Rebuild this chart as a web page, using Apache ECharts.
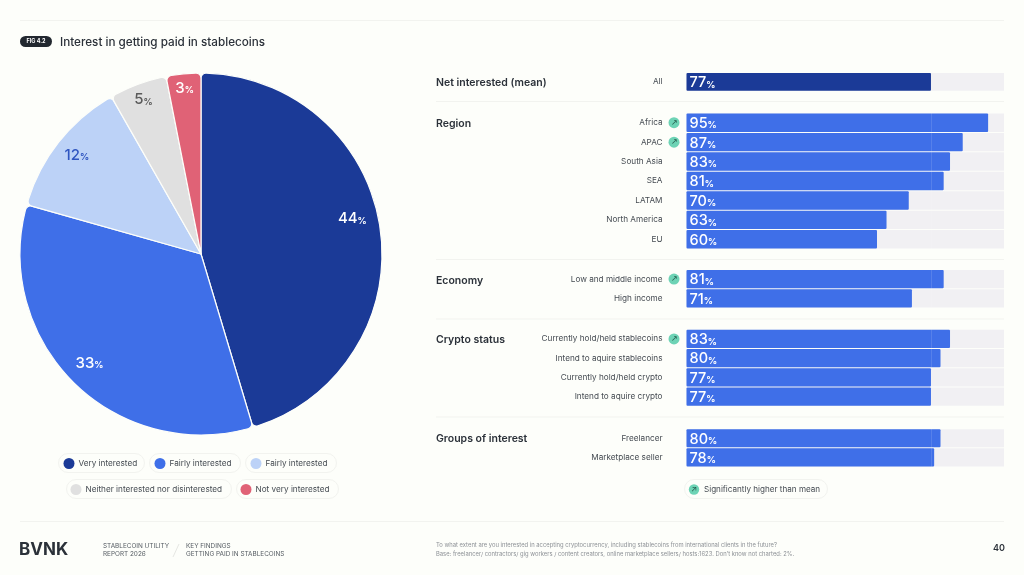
<!DOCTYPE html>
<html>
<head>
<meta charset="utf-8">
<style>
html, body { margin: 0; padding: 0; background: #fdfefa; }
#chart { width: 1024px; height: 575px; }
</style>
<script src="https://cdn.jsdelivr.net/npm/echarts@6/dist/echarts.min.js"></script>
</head>
<body>
<div id="chart"></div>
<script>
// pie: the 2% "don't know" is not charted, so values add up to 97
// the third name has a trailing space because the legend drops repeated names
var pieNames = ['Very interested', 'Fairly interested', 'Fairly interested ', 'Neither interested nor disinterested', 'Not very interested'];
var pieValues = [44, 33, 12, 5, 3];

var meanValue = 77;
var groupTitles = ['Net interested (mean)', 'Region', 'Economy', 'Crypto status', 'Groups of interest'];
var allNames = ['All'];
var allValues = [77];
var regionNames = ['Africa', 'APAC', 'South Asia', 'SEA', 'LATAM', 'North America', 'EU'];
var regionValues = [95, 87, 83, 81, 70, 63, 60];
var economyNames = ['Low and middle income', 'High income'];
var economyValues = [81, 71];
var cryptoNames = ['Currently hold/held stablecoins', 'Intend to aquire stablecoins', 'Currently hold/held crypto', 'Intend to aquire crypto'];
var cryptoValues = [83, 80, 77, 77];
var interestNames = ['Freelancer', 'Marketplace seller'];
var interestValues = [80, 78];
var higherThanMean = ['Africa', 'APAC', 'Low and middle income', 'Currently hold/held stablecoins'];

var FONT = 'Inter';
var BG = '#fdfefa';
var INK = '#2b3139';
var LINE = '#f2f3ef';
var DARK = '#1b3a97';
var BLUE = '#3f6fe8';
var MINT = '#6dd3b5';
var pieColors = [DARK, BLUE, '#bcd2f7', '#e0e0e0', '#e06276'];
var pieLabelColors = ['#fff', '#fff', '#2f55c0', '#5a5a5a', '#fff'];
var pieLabelOffsets = [[-6, -12], [0, -4], [1, -1], [-2, -5], [-1, -7]];

// pixel layout of the panels
var legendBoxes = [
    {x: 58, y: 453, w: 86, dot: 63.5}, {x: 149, y: 453, w: 91, dot: 154.5}, {x: 245, y: 453, w: 91, dot: 250.5},
    {x: 66, y: 479, w: 165, dot: 70.5}, {x: 236, y: 479, w: 102, dot: 240.5}
];
var barGroups = [
    {names: allNames, values: allValues, top: 72.5, height: 18.8, color: DARK, titleY: 82.7},
    {names: regionNames, values: regionValues, top: 113, height: 136, color: BLUE, titleY: 123.7},
    {names: economyNames, values: economyValues, top: 269.5, height: 38.4, color: BLUE, titleY: 280.7},
    {names: cryptoNames, values: cryptoValues, top: 329.3, height: 76.9, color: BLUE, titleY: 339.7},
    {names: interestNames, values: interestValues, top: 428.7, height: 38.2, color: BLUE, titleY: 438.7}
];

var chart = echarts.init(document.getElementById('chart'));

function hLine(x1, x2, y, color) {
    return {type: 'line', silent: true, shape: {x1: x1, y1: y, x2: x2, y2: y}, style: {stroke: color || LINE, lineWidth: 1}};
}

function label(x, y, text, size, color, weight, align) {
    return {
        type: 'text', x: x, y: y, silent: true,
        style: {text: text, fontFamily: FONT, fontSize: size, fill: color, fontWeight: weight || 400, align: align || 'left', verticalAlign: 'middle'}
    };
}

var graphics = [
    hLine(20, 1004, 20.5),
    hLine(436, 1004, 101.5),
    hLine(436, 1004, 259.5),
    hLine(436, 1004, 319),
    hLine(436, 1004, 417),
    hLine(20, 1004, 521.5),
    {type: 'rect', silent: true, shape: {x: 20, y: 36, width: 32, height: 11, r: 5.5}, style: {fill: '#22282f'}},
    label(36, 41.7, 'FIG 4.2', 5.5, '#fff', 700, 'center'),
    label(19, 550, 'BVNK', 17, INK, 700),
    label(103, 546, 'STABLECOIN UTILITY', 6.4, '#555b62'),
    label(103, 554, 'REPORT 2026', 6.4, '#555b62'),
    {type: 'line', silent: true, shape: {x1: 173, y1: 557, x2: 179, y2: 544}, style: {stroke: '#e6e7e3', lineWidth: 1}},
    label(186, 546, 'KEY FINDINGS', 6.4, '#555b62'),
    label(186, 554, 'GETTING PAID IN STABLECOINS', 6.4, '#555b62'),
    label(436, 545.5, 'To what extent are you interested in accepting cryptocurrency, including stablecoins from international clients in the future?', 5.85, '#8d9196'),
    label(436, 554, 'Base: freelancer/ contractors/ gig workers / content creators, online marketplace sellers/ hosts:1623. Don\u2019t know not charted: 2%.', 5.85, '#8d9196'),
    label(1005, 548, '40', 9, INK, 600, 'right'),
    // key for the arrow badge
    {type: 'rect', silent: true, shape: {x: 684.5, y: 479.5, width: 143, height: 19, r: 9.5}, style: {fill: BG, stroke: '#f2f3ef'}},
    {type: 'circle', silent: true, shape: {cx: 694, cy: 489.5, r: 5.2}, style: {fill: MINT}},
    label(694, 489.5, '\u2197', 8, '#245a4c', 400, 'center'),
    label(704, 490, 'Significantly higher than mean', 8.1, '#454b52')
];

legendBoxes.forEach(function (box) {
    graphics.push({type: 'rect', silent: true, z: -1, shape: {x: box.x + 0.5, y: box.y + 0.5, width: box.w, height: 19, r: 9.5}, style: {fill: BG, stroke: '#f2f3ef'}});
});

barGroups.forEach(function (group, i) {
    graphics.push(label(436, group.titleY, groupTitles[i], 10.5, INK, 600));
});

var grids = [], xAxes = [], yAxes = [];
var series = [
    {
        type: 'pie',
        center: [201, 254],
        radius: [0, 181],
        startAngle: 90,
        clockwise: true,
        silent: true,
        label: {show: false},
        labelLine: {show: false},
        itemStyle: {borderColor: BG, borderWidth: 1.2, borderRadius: 5},
        data: pieNames.map(function (name, i) {
            return {name: name, value: pieValues[i], itemStyle: {color: pieColors[i]}};
        })
    },
    {
        // outer ring that only carries the labels, the pie's own inside labels sit too close to the centre
        type: 'pie',
        center: [201, 254],
        radius: [130, 182],
        startAngle: 90,
        clockwise: true,
        silent: true,
        legendHoverLink: false,
        labelLine: {show: false},
        itemStyle: {color: 'transparent'},
        data: pieNames.map(function (name, i) {
            return {
                name: name,
                value: pieValues[i],
                label: {
                    show: true,
                    position: 'inside',
                    offset: pieLabelOffsets[i],
                    formatter: '{v|' + pieValues[i] + '}{p|%}',
                    rich: {
                        v: {fontFamily: FONT, fontSize: 15, fontWeight: 500, color: pieLabelColors[i]},
                        p: {fontFamily: FONT, fontSize: 9, fontWeight: 700, color: pieLabelColors[i], verticalAlign: 'bottom', padding: [0, 0, 1, 0]}
                    }
                }
            };
        })
    }
];

barGroups.forEach(function (group, i) {
    grids.push({left: 686.5, width: 317.5, top: group.top, height: group.height});
    xAxes.push({gridIndex: i, type: 'value', min: 0, max: 100, show: false});
    yAxes.push({
        gridIndex: i,
        type: 'category',
        inverse: true,
        data: group.names,
        axisLine: {show: false},
        axisTick: {show: false},
        axisLabel: {
            margin: 7,
            formatter: function (name) {
                return higherThanMean.indexOf(name) >= 0 ? '{n|' + name + '}{s| }{i|\u2197}' : '{n|' + name + '}{e| }';
            },
            rich: {
                n: {fontFamily: FONT, fontSize: 8.2, color: '#454b52'},
                s: {width: 6},
                e: {width: 17},
                i: {width: 11, height: 11, lineHeight: 11, align: 'center', borderRadius: 5.5, backgroundColor: MINT, color: '#245a4c', fontSize: 8}
            }
        }
    });
    series.push({
        type: 'bar',
        xAxisIndex: i,
        yAxisIndex: i,
        data: group.values,
        barCategoryGap: '5%',
        silent: true,
        showBackground: true,
        backgroundStyle: {color: '#f1f0f3'},
        itemStyle: {color: group.color, borderRadius: 1},
        label: {
            show: true,
            position: 'insideLeft',
            distance: 3,
            offset: [0, 1],
            formatter: function (p) { return '{v|' + p.value + '}{p|%}'; },
            rich: {
                v: {fontFamily: FONT, fontSize: 14.5, fontWeight: 500, color: '#fff'},
                p: {fontFamily: FONT, fontSize: 9, fontWeight: 700, color: '#fff', verticalAlign: 'bottom', padding: [0, 0, 1, 0]}
            }
        },
        // faint mean marker, only shows on the bars that pass it
        markLine: i === 0 ? undefined : {
            silent: true,
            symbol: 'none',
            label: {show: false},
            lineStyle: {color: 'rgba(255,255,255,0.12)', type: 'solid', width: 1},
            data: [{xAxis: meanValue}]
        }
    });
});

chart.setOption({
    backgroundColor: BG,
    animation: false,
    title: {
        text: 'Interest in getting paid in stablecoins',
        left: 60,
        top: 36,
        padding: 0,
        textStyle: {fontFamily: FONT, fontSize: 11.7, fontWeight: 500, color: INK}
    },
    legend: pieNames.map(function (name, i) {
        return {
            data: [name],
            left: legendBoxes[i].dot,
            top: legendBoxes[i].y + 5,
            padding: 0,
            icon: 'circle',
            itemWidth: 11,
            itemHeight: 11,
            itemGap: 0,
            selectedMode: false,
            itemStyle: {borderWidth: 0},
            textStyle: {fontFamily: FONT, fontSize: 8.2, color: '#454b52', padding: [0, 0, 0, -1]}
        };
    }),
    grid: grids,
    xAxis: xAxes,
    yAxis: yAxes,
    series: series,
    graphic: graphics
});
</script>
</body>
</html>
